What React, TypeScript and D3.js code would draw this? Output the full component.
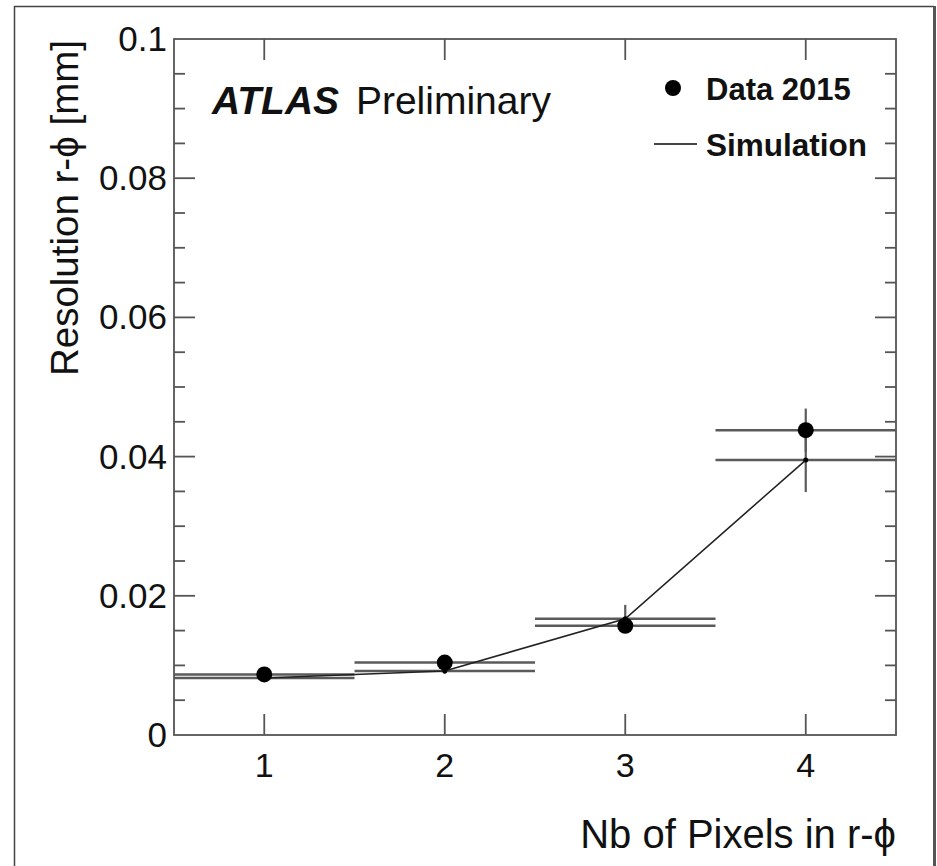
import React, { useEffect, useRef } from "react";
import * as d3 from "d3";

// values
const pixelCounts = [1, 2, 3, 4];
const dataValues = [0.0087, 0.0104, 0.0157, 0.0438];
const dataErrors = [0.0003, 0.0004, 0.0008, 0.0031];
const simValues = [0.0082, 0.0092, 0.0167, 0.0395];
const simErrors = [0.0003, 0.0004, 0.002, 0.0046];
const binHalfWidth = 0.5;

const xTicks = [1, 2, 3, 4];
const yTicks = [0, 0.02, 0.04, 0.06, 0.08, 0.1];
const yTickLabels = ["0", "0.02", "0.04", "0.06", "0.08", "0.1"];
const yMinorTicks = d3.range(0, 0.1001, 0.005);

const FONT = "'Liberation Sans', Arial, Helvetica, sans-serif";

const App = () => {
  const ref = useRef<SVGSVGElement | null>(null);

  useEffect(() => {
    document.body.style.margin = "0";
    const svg = d3.select(ref.current);
    svg.selectAll("*").remove();

    const W = 937;
    const H = 866;
    const margin = { top: 39, right: 41, bottom: 131, left: 174 };
    const width = W - margin.left - margin.right;
    const height = H - margin.top - margin.bottom;

    svg.attr("width", W).attr("height", H);

    svg.append("rect").attr("width", W).attr("height", H).attr("fill", "#fff");

    // outer frame of the screenshot
    svg.append("path")
      .attr("d", `M14.5,${H} V6.5 H934`)
      .attr("fill", "none")
      .attr("stroke", "#444")
      .attr("stroke-width", 1.5);
    svg.append("line")
      .attr("x1", 934.5).attr("x2", 934.5).attr("y1", 6).attr("y2", H)
      .attr("stroke", "#555").attr("stroke-width", 3);

    const g = svg.append("g").attr("transform", `translate(${margin.left},${margin.top})`);

    const x = d3.scaleLinear().domain([0.5, 4.5]).range([0, width]);
    const y = d3.scaleLinear().domain([0, 0.1]).range([height, 0]);

    const axisColor = "#555";

    // frame
    g.append("rect")
      .attr("width", width).attr("height", height)
      .attr("fill", "none").attr("stroke", axisColor).attr("stroke-width", 1.8);

    // y ticks, both sides
    yMinorTicks.forEach((t) => {
      const major = Math.abs((t / 0.02) - Math.round(t / 0.02)) < 1e-6;
      const len = major ? 21 : 11;
      if (t <= 0 || t >= 0.1) return;
      g.append("line").attr("x1", 0).attr("x2", len).attr("y1", y(t)).attr("y2", y(t))
        .attr("stroke", axisColor).attr("stroke-width", 1.8);
      g.append("line").attr("x1", width).attr("x2", width - len).attr("y1", y(t)).attr("y2", y(t))
        .attr("stroke", axisColor).attr("stroke-width", 1.8);
    });

    // x ticks, top and bottom
    xTicks.forEach((t) => {
      g.append("line").attr("x1", x(t)).attr("x2", x(t)).attr("y1", height).attr("y2", height - 21)
        .attr("stroke", axisColor).attr("stroke-width", 1.8);
      g.append("line").attr("x1", x(t)).attr("x2", x(t)).attr("y1", 0).attr("y2", 21)
        .attr("stroke", axisColor).attr("stroke-width", 1.8);
    });

    // tick labels
    g.selectAll(".ylab")
      .data(yTicks)
      .join("text")
      .attr("x", -7)
      .attr("y", (d) => y(d) + 12)
      .attr("text-anchor", "end")
      .style("font-family", FONT)
      .style("font-size", "35px")
      .attr("fill", "#111")
      .text((d, i) => yTickLabels[i]);

    g.selectAll(".xlab")
      .data(xTicks)
      .join("text")
      .attr("x", (d) => x(d))
      .attr("y", height + 42)
      .attr("text-anchor", "middle")
      .style("font-family", FONT)
      .style("font-size", "34px")
      .attr("fill", "#111")
      .text((d) => String(d));

    // axis titles
    g.append("text")
      .attr("x", width)
      .attr("y", height + 113)
      .attr("text-anchor", "end")
      .style("font-family", FONT)
      .style("font-size", "40px")
      .attr("fill", "#111")
      .text("Nb of Pixels in r-ϕ");

    g.append("text")
      .attr("transform", `translate(${78 - margin.left},1) rotate(-90)`)
      .attr("text-anchor", "end")
      .style("font-family", FONT)
      .style("font-size", "38.5px")
      .attr("fill", "#111")
      .text("Resolution r-ϕ [mm]");

    // ATLAS label
    const lab = g.append("text")
      .attr("x", 212 - margin.left)
      .attr("y", 114 - margin.top)
      .style("font-family", FONT)
      .style("font-size", "39px")
      .attr("fill", "#111");
    lab.append("tspan").style("font-weight", "bold").style("font-style", "italic").text("ATLAS");
    lab.append("tspan").attr("dx", 6).text(" Preliminary");

    // horizontal bin-width bars
    const barColor = "#5a5a5a";
    const addHBars = (vals: number[]) => {
      g.append("g")
        .selectAll("line")
        .data(vals)
        .join("line")
        .attr("x1", (d, i) => x(pixelCounts[i] - binHalfWidth))
        .attr("x2", (d, i) => x(pixelCounts[i] + binHalfWidth))
        .attr("y1", (d) => y(d))
        .attr("y2", (d) => y(d))
        .attr("stroke", barColor)
        .attr("stroke-width", 2.5);
    };
    addHBars(simValues);
    addHBars(dataValues);

    // vertical error bars
    const addVBars = (vals: number[], errs: number[]) => {
      g.append("g")
        .selectAll("line")
        .data(vals)
        .join("line")
        .attr("x1", (d, i) => x(pixelCounts[i]))
        .attr("x2", (d, i) => x(pixelCounts[i]))
        .attr("y1", (d, i) => y(d - errs[i]))
        .attr("y2", (d, i) => y(d + errs[i]))
        .attr("stroke", barColor)
        .attr("stroke-width", 2.2);
    };
    addVBars(simValues, simErrors);
    addVBars(dataValues, dataErrors);

    // simulation line
    g.append("path")
      .datum(simValues)
      .attr("fill", "none")
      .attr("stroke", "#222")
      .attr("stroke-width", 1.6)
      .attr("d", d3.line<number>().x((d, i) => x(pixelCounts[i])).y((d) => y(d)));

    g.append("g")
      .selectAll("circle")
      .data(simValues)
      .join("circle")
      .attr("cx", (d, i) => x(pixelCounts[i]))
      .attr("cy", (d) => y(d))
      .attr("r", 2.5)
      .attr("fill", "#000");

    // data points
    g.append("g")
      .selectAll("circle")
      .data(dataValues)
      .join("circle")
      .attr("cx", (d, i) => x(pixelCounts[i]))
      .attr("cy", (d) => y(d))
      .attr("r", 8)
      .attr("fill", "#000");

    // legend
    svg.append("circle").attr("cx", 673).attr("cy", 88).attr("r", 8).attr("fill", "#000");
    svg.append("text")
      .attr("x", 706).attr("y", 100)
      .style("font-family", FONT).style("font-size", "31px").style("font-weight", "bold")
      .attr("fill", "#111")
      .text("Data 2015");
    svg.append("line")
      .attr("x1", 654).attr("x2", 697).attr("y1", 144).attr("y2", 144)
      .attr("stroke", "#444").attr("stroke-width", 1.8);
    svg.append("text")
      .attr("x", 706).attr("y", 156)
      .style("font-family", FONT).style("font-size", "31.5px").style("font-weight", "bold")
      .attr("fill", "#111")
      .text("Simulation");
  }, []);

  return (
    <svg ref={ref} style={{ position: "absolute", left: 0, top: 0, display: "block" }}></svg>
  );
};

export default App;
